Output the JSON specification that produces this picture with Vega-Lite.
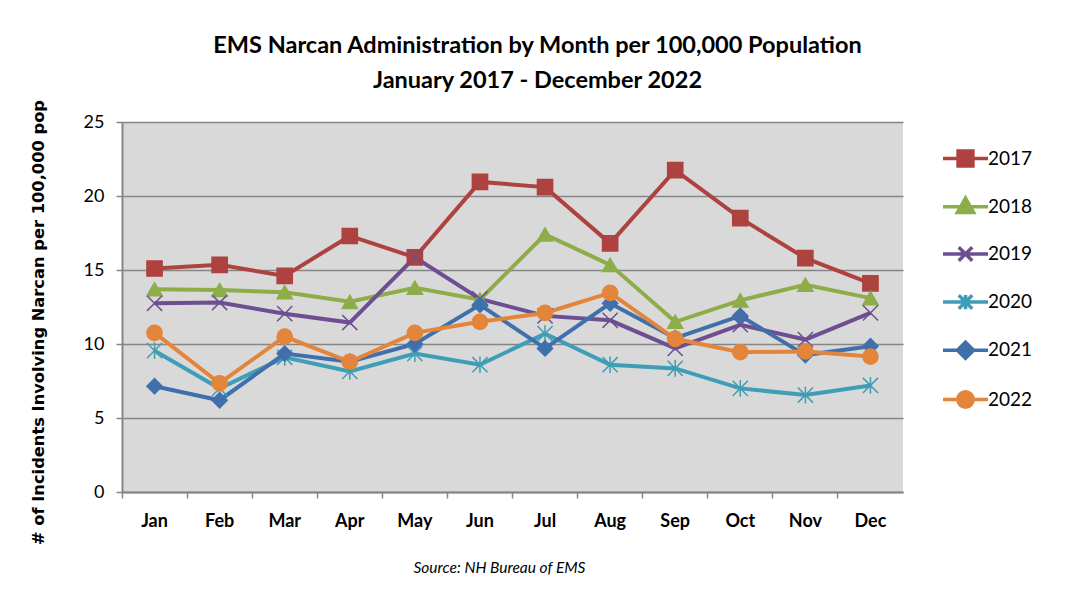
{
  "$schema": "https://vega.github.io/schema/vega-lite/v6.json",
  "width": 781,
  "height": 370,
  "autosize": {"type": "none"},
  "padding": {"left": 122, "top": 122, "right": 165, "bottom": 121},
  "background": "white",
  "title": {
    "text": ["EMS Narcan Administration by Month per 100,000 Population", "January 2017  - December 2022"],
    "font": "Lato",
    "fontSize": 23.5,
    "fontWeight": "bold",
    "color": "black",
    "lineHeight": 35,
    "anchor": "middle",
    "offset": 7,
    "dx": 25
  },
  "data": {
    "values": [
      {"year": "2017", "month": "Jan", "value": 15.1},
      {"year": "2017", "month": "Feb", "value": 15.35},
      {"year": "2017", "month": "Mar", "value": 14.6},
      {"year": "2017", "month": "Apr", "value": 17.3},
      {"year": "2017", "month": "May", "value": 15.85},
      {"year": "2017", "month": "Jun", "value": 20.95},
      {"year": "2017", "month": "Jul", "value": 20.6},
      {"year": "2017", "month": "Aug", "value": 16.8},
      {"year": "2017", "month": "Sep", "value": 21.75},
      {"year": "2017", "month": "Oct", "value": 18.5},
      {"year": "2017", "month": "Nov", "value": 15.8},
      {"year": "2017", "month": "Dec", "value": 14.1},
      {"year": "2018", "month": "Jan", "value": 13.7},
      {"year": "2018", "month": "Feb", "value": 13.65},
      {"year": "2018", "month": "Mar", "value": 13.5},
      {"year": "2018", "month": "Apr", "value": 12.85},
      {"year": "2018", "month": "May", "value": 13.8},
      {"year": "2018", "month": "Jun", "value": 13.0},
      {"year": "2018", "month": "Jul", "value": 17.4},
      {"year": "2018", "month": "Aug", "value": 15.35},
      {"year": "2018", "month": "Sep", "value": 11.5},
      {"year": "2018", "month": "Oct", "value": 12.95},
      {"year": "2018", "month": "Nov", "value": 14.0},
      {"year": "2018", "month": "Dec", "value": 13.1},
      {"year": "2019", "month": "Jan", "value": 12.75},
      {"year": "2019", "month": "Feb", "value": 12.8},
      {"year": "2019", "month": "Mar", "value": 12.05},
      {"year": "2019", "month": "Apr", "value": 11.45},
      {"year": "2019", "month": "May", "value": 15.85},
      {"year": "2019", "month": "Jun", "value": 13.05},
      {"year": "2019", "month": "Jul", "value": 11.9},
      {"year": "2019", "month": "Aug", "value": 11.6},
      {"year": "2019", "month": "Sep", "value": 9.7},
      {"year": "2019", "month": "Oct", "value": 11.3},
      {"year": "2019", "month": "Nov", "value": 10.3},
      {"year": "2019", "month": "Dec", "value": 12.1},
      {"year": "2020", "month": "Jan", "value": 9.55},
      {"year": "2020", "month": "Feb", "value": 7.0},
      {"year": "2020", "month": "Mar", "value": 9.1},
      {"year": "2020", "month": "Apr", "value": 8.15},
      {"year": "2020", "month": "May", "value": 9.35},
      {"year": "2020", "month": "Jun", "value": 8.6},
      {"year": "2020", "month": "Jul", "value": 10.7},
      {"year": "2020", "month": "Aug", "value": 8.6},
      {"year": "2020", "month": "Sep", "value": 8.35},
      {"year": "2020", "month": "Oct", "value": 7.0},
      {"year": "2020", "month": "Nov", "value": 6.55},
      {"year": "2020", "month": "Dec", "value": 7.2},
      {"year": "2021", "month": "Jan", "value": 7.15},
      {"year": "2021", "month": "Feb", "value": 6.2},
      {"year": "2021", "month": "Mar", "value": 9.35},
      {"year": "2021", "month": "Apr", "value": 8.8},
      {"year": "2021", "month": "May", "value": 10.0},
      {"year": "2021", "month": "Jun", "value": 12.65},
      {"year": "2021", "month": "Jul", "value": 9.7},
      {"year": "2021", "month": "Aug", "value": 12.75},
      {"year": "2021", "month": "Sep", "value": 10.4},
      {"year": "2021", "month": "Oct", "value": 11.9},
      {"year": "2021", "month": "Nov", "value": 9.25},
      {"year": "2021", "month": "Dec", "value": 9.85},
      {"year": "2022", "month": "Jan", "value": 10.75},
      {"year": "2022", "month": "Feb", "value": 7.35},
      {"year": "2022", "month": "Mar", "value": 10.5},
      {"year": "2022", "month": "Apr", "value": 8.8},
      {"year": "2022", "month": "May", "value": 10.75},
      {"year": "2022", "month": "Jun", "value": 11.5},
      {"year": "2022", "month": "Jul", "value": 12.1},
      {"year": "2022", "month": "Aug", "value": 13.45},
      {"year": "2022", "month": "Sep", "value": 10.35},
      {"year": "2022", "month": "Oct", "value": 9.45},
      {"year": "2022", "month": "Nov", "value": 9.5},
      {"year": "2022", "month": "Dec", "value": 9.15}
    ]
  },
  "encoding": {
    "x": {
      "field": "month",
      "type": "ordinal",
      "sort": ["Jan", "Feb", "Mar", "Apr", "May", "Jun", "Jul", "Aug", "Sep", "Oct", "Nov", "Dec"],
      "scale": {"type": "band", "paddingInner": 0, "paddingOuter": 0},
      "axis": {
        "orient": "bottom",
        "bandPosition": 0,
        "labelAngle": 0,
        "labelFont": "Lato",
        "labelFontSize": 18,
        "labelFontWeight": "bold",
        "labelColor": "black",
        "labelPadding": 14,
        "ticks": true,
        "tickSize": 6,
        "tickColor": "#868686",
        "tickWidth": 1.5,
        "domainColor": "#868686",
        "domainWidth": 2,
        "grid": false,
        "title": "Source: NH Bureau of EMS",
        "titleFont": "Lato",
        "titleFontSize": 15.5,
        "titleFontWeight": "normal",
        "titleFontStyle": "italic",
        "titleColor": "black",
        "titleX": 377,
        "titleY": 75,
        "titleBaseline": "middle"
      }
    },
    "y": {
      "field": "value",
      "type": "quantitative",
      "scale": {"domain": [0, 25], "nice": false},
      "axis": {
        "values": [0, 5, 10, 15, 20, 25],
        "labelFont": "Lato",
        "labelFontSize": 18,
        "labelColor": "black",
        "labelPadding": 12,
        "tickSize": 6,
        "tickColor": "#868686",
        "tickWidth": 1.5,
        "domainColor": "#868686",
        "domainWidth": 2,
        "grid": true,
        "gridColor": "#868686",
        "gridWidth": 1.5,
        "title": "# of Incidents Involving Narcan per 100,000 pop",
        "titleFont": "DejaVu Sans",
        "titleFontSize": 16.3,
        "titleFontWeight": "bold",
        "titleColor": "black",
        "titleX": -84,
        "titleY": 200,
        "titleBaseline": "middle",
        "titleAngle": -90
      }
    }
  },
  "layer": [
    {
      "mark": {"type": "line", "strokeWidth": 4},
      "encoding": {
        "color": {
          "field": "year",
          "type": "nominal",
          "scale": {
            "domain": ["2017", "2018", "2019", "2020", "2021", "2022"],
            "range": ["#AE423F", "#8DAD48", "#6D4F91", "#3F9DB5", "#4070AC", "#E3853A"]
          },
          "legend": null
        }
      }
    },
    {
      "mark": {"type": "point", "filled": false, "strokeWidth": 1.5, "opacity": 1},
      "encoding": {
        "fill": {
          "field": "year",
          "type": "nominal",
          "scale": {
            "domain": ["2017", "2018", "2019", "2020", "2021", "2022"],
            "range": ["#AE423F", "#8DAD48", "#6D4F91", "#3F9DB5", "#4070AC", "#E3853A"]
          },
          "legend": null
        },
        "stroke": {
          "field": "year",
          "type": "nominal",
          "scale": {
            "domain": ["2017", "2018", "2019", "2020", "2021", "2022"],
            "range": ["#AE423F", "#8DAD48", "#6D4F91", "#3F9DB5", "#4070AC", "#E3853A"]
          },
          "legend": null
        },
        "shape": {
          "field": "year",
          "type": "nominal",
          "scale": {
            "domain": ["2017", "2018", "2019", "2020", "2021", "2022"],
            "range": ["square", "triangle-up", "M-1,-1L1,1M-1,1L1,-1", "M-1,-1L1,1M-1,1L1,-1M0,-1.1V1.1", "diamond", "circle"]
          },
          "legend": null
        },
        "size": {"value": 230}
      }
    },
    {
      "mark": {"type": "point", "filled": false, "opacity": 0},
      "encoding": {
        "fill": {
          "field": "year",
          "type": "nominal",
          "scale": {
            "domain": ["2017", "2018", "2019", "2020", "2021", "2022"],
            "range": ["#AE423F", "#8DAD48", "#6D4F91", "#3F9DB5", "#4070AC", "#E3853A"]
          },
          "legend": {
            "orient": "none",
            "legendX": 819,
            "legendY": 12,
            "title": null,
            "padding": 0,
            "labelFont": "Lato",
            "labelFontSize": 19,
            "labelColor": "black",
            "labelOffset": -2,
            "symbolSize": 2025,
            "symbolStrokeWidth": 3.5,
            "symbolOpacity": 1,
            "rowPadding": 9.2
          }
        },
        "stroke": {
          "field": "year",
          "type": "nominal",
          "scale": {
            "domain": ["2017", "2018", "2019", "2020", "2021", "2022"],
            "range": ["#AE423F", "#8DAD48", "#6D4F91", "#3F9DB5", "#4070AC", "#E3853A"]
          },
          "legend": {
            "orient": "none",
            "legendX": 819,
            "legendY": 12,
            "title": null,
            "padding": 0,
            "labelFont": "Lato",
            "labelFontSize": 19,
            "labelColor": "black",
            "labelOffset": -2,
            "symbolSize": 2025,
            "symbolStrokeWidth": 3.5,
            "symbolOpacity": 1,
            "rowPadding": 9.2
          }
        },
        "shape": {
          "field": "year",
          "type": "nominal",
          "scale": {
            "domain": ["2017", "2018", "2019", "2020", "2021", "2022"],
            "range": [
              "M-1,0H1M-0.33,-0.33H0.33V0.33H-0.33Z",
              "M-1,0H1M0,-0.38L0.36,0.26H-0.36Z",
              "M-1,0H1M-0.3,-0.3L0.3,0.3M-0.3,0.3L0.3,-0.3",
              "M-1,0H1M-0.3,-0.3L0.3,0.3M-0.3,0.3L0.3,-0.3M0,-0.32V0.32",
              "M-1,0H1M-0.36,0L0,-0.36L0.36,0L0,0.36Z",
              "M-1,0H1M-0.34,0A0.34,0.34,0,1,1,0.34,0A0.34,0.34,0,1,1,-0.34,0Z"
            ]
          },
          "legend": {
            "orient": "none",
            "legendX": 819,
            "legendY": 12,
            "title": null,
            "padding": 0,
            "labelFont": "Lato",
            "labelFontSize": 19,
            "labelColor": "black",
            "labelOffset": -2,
            "symbolSize": 2025,
            "symbolStrokeWidth": 3.5,
            "symbolOpacity": 1,
            "rowPadding": 9.2
          }
        }
      }
    }
  ],
  "resolve": {"scale": {"fill": "independent", "stroke": "independent", "shape": "independent"}},
  "config": {
    "view": {"fill": "#D9D9D9", "stroke": null}
  }
}
